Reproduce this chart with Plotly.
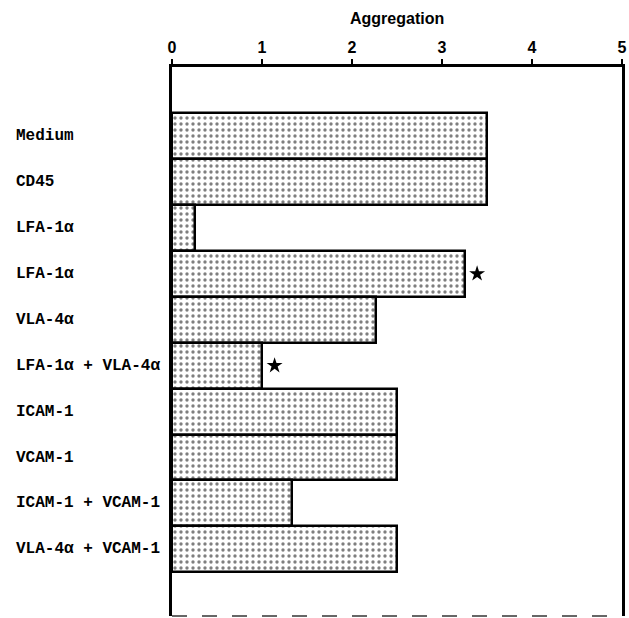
import plotly.graph_objects as go

categories = ["Medium", "CD45", "LFA-1α", "LFA-1α", "VLA-4α", "LFA-1α + VLA-4α",
              "ICAM-1", "VCAM-1", "ICAM-1 + VCAM-1", "VLA-4α + VCAM-1"]
aggregation = [3.5, 3.5, 0.25, 3.25, 2.27, 1.0, 2.5, 2.5, 1.33, 2.5]
significant = [False, False, False, True, False, True, False, False, False, False]
x_ticks = [0, 1, 2, 3, 4, 5]

idx = list(range(len(categories)))

fig = go.Figure()
fig.add_trace(go.Bar(
    x=aggregation, y=idx, orientation="h", width=1.0,
    marker=dict(color="white",
                line=dict(color="black", width=2.5),
                pattern=dict(shape=".", fgcolor="black", bgcolor="white",
                             size=6, solidity=0.25)),
    showlegend=False, hoverinfo="skip",
))

star_x = [v + 0.14 for v, s in zip(aggregation, significant) if s]
star_y = [i for i, s in zip(idx, significant) if s]
fig.add_trace(go.Scatter(
    x=star_x, y=star_y, mode="markers",
    marker=dict(symbol="star", size=12, color="black"),
    showlegend=False, hoverinfo="skip",
))

for i, c in zip(idx, categories):
    fig.add_annotation(x=-0.351, xref="paper", y=i, yref="y", text=f"<b>{c}</b>",
                       showarrow=False, xanchor="left", yanchor="middle",
                       font=dict(family="Liberation Mono", size=16, color="black"))

fig.add_annotation(x=0.5, xref="paper", y=1.0, yref="paper", yshift=38,
                   text="<b>Aggregation</b>", showarrow=False,
                   xanchor="center", yanchor="bottom",
                   font=dict(family="Liberation Sans", size=16, color="black"))

fig.update_xaxes(range=[0, 5], side="top", tickvals=x_ticks,
                 ticktext=[f"<b>{t}</b>" for t in x_ticks],
                 ticks="outside", ticklen=5, tickwidth=2, tickcolor="black",
                 showline=True, linecolor="black", linewidth=3,
                 showgrid=False, zeroline=False,
                 tickfont=dict(family="Liberation Sans", size=16, color="black"))
fig.update_yaxes(range=[10.45, -1.5], showticklabels=False, ticks="",
                 showline=True, mirror=True, linecolor="black", linewidth=3,
                 showgrid=False, zeroline=False)

fig.add_shape(type="line", xref="paper", yref="paper", x0=0, x1=1, y0=0, y1=0,
              line=dict(color="#666666", width=2, dash="longdash"))

fig.update_layout(width=629, height=618,
                  margin=dict(l=172, r=7, t=67, b=2),
                  paper_bgcolor="white", plot_bgcolor="white",
                  bargap=0)

fig.write_html("out.html", config={"displayModeBar": False},
               post_script="document.body.style.margin='0';document.body.style.padding='0';")
